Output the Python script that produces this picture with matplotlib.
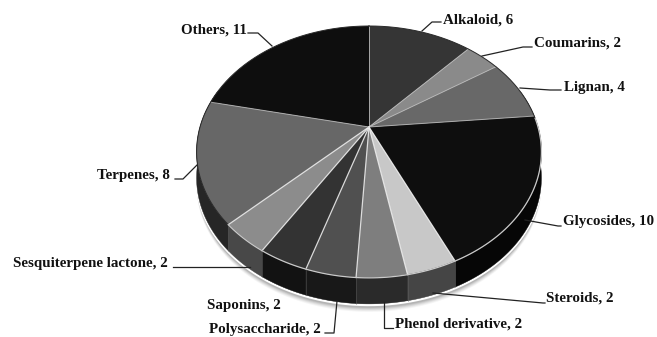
import numpy as np
import matplotlib
matplotlib.use("Agg")
import matplotlib.pyplot as plt
from matplotlib.patches import Polygon

names = ["Alkaloid", "Coumarins", "Lignan", "Glycosides", "Steroids", "Phenol derivative",
         "Polysaccharide", "Saponins", "Sesquiterpene lactone", "Terpenes", "Others"]
values = [6, 2, 4, 10, 2, 2, 2, 2, 2, 8, 11]
top_colors = ["#353535", "#8a8a8a", "#686868", "#0e0e0e", "#c8c8c8", "#7e7e7e",
              "#505050", "#333333", "#8c8c8c", "#676767", "#0e0e0e"]
side_colors = ["#222222", "#555555", "#333333", "#060606", "#454545", "#2a2a2a",
               "#181818", "#121212", "#484848", "#262626", "#060606"]

# label text anchor (left x, centre y) and leader line for each slice
label_pos = [(443, 20), (534, 43), (564, 87), (563, 221), (546, 298), (395, 324),
             (209, 329), (207, 305), (13, 263), (97, 175), (181, 30)]
leaders = [[(422, 31), (432, 22), (441, 22)],
           [(482, 56), (523, 47), (532, 47)],
           [(520, 88), (550, 90), (561, 90)],
           [(525, 220), (558, 226), (561, 226)],
           [(433, 293), (543, 303), (545, 303)],
           [(384, 302), (384, 328), (393, 328)],
           [(337, 301), (334, 333), (325, 333)],
           None,
           [(250, 267), (173, 267)],
           [(197, 165), (183, 179), (175, 179)],
           [(248, 33), (258, 33), (272, 46)]]

# perspective view of the pie disc
cx, cy = 369, 127
rx, ry, tilt = 169, 121, 0.198
depth = 26


def rim(t, r=1.0):
    u, v = r * np.sin(t), -r * np.cos(t)
    d = 1 - tilt * v
    return np.column_stack([cx + rx * u / d, cy + ry * v / d])


fig = plt.figure(figsize=(6.57, 3.37), dpi=100)
ax = fig.add_axes([0, 0, 1, 1])
ax.set_xlim(0, 657)
ax.set_ylim(337, 0)
ax.axis("off")

edges = np.cumsum([0] + values) / sum(values) * 2 * np.pi
drop = np.array([0, depth])

# soft shadow under the lower rim
low = np.linspace(np.pi * 0.45, np.pi * 1.55, 200)
for off, alpha in [(8, 0.06), (7, 0.08), (6, 0.10), (5, 0.13), (4, 0.16)]:
    ax.add_patch(Polygon(rim(low) + drop + [0, off], closed=True, fc="#555555", ec="none", alpha=alpha, zorder=1))
ax.plot(*(rim(low) + drop + [0, 1.2]).T, color="white", lw=1.6, zorder=1.5)

# side walls
for i in range(len(values)):
    a, b = edges[i], edges[i + 1]
    a, b = max(a, np.pi * 0.4), min(b, np.pi * 1.6)
    if b <= a:
        continue
    arc = rim(np.linspace(a, b, 60))
    wall = np.vstack([arc, (arc + drop)[::-1]])
    ax.add_patch(Polygon(wall, closed=True, fc=side_colors[i], ec=side_colors[i], lw=0.3, zorder=2))
    # lighter seam on the left end of each wall
    seam = rim(np.array([b]))
    ax.plot([seam[0, 0], seam[0, 0]], [seam[0, 1], seam[0, 1] + depth], color="#666666", lw=0.5, alpha=0.6, zorder=2.5)

# top face
for i in range(len(values)):
    arc = rim(np.linspace(edges[i], edges[i + 1], 120))
    face = np.vstack([[cx, cy], arc])
    ax.add_patch(Polygon(face, closed=True, fc=top_colors[i], ec="none", zorder=3))

# slice separators, brighter towards the front
for e in edges[:-1]:
    p = rim(np.array([e]))[0]
    front_edge = np.cos(e) < 0
    ax.plot([cx, p[0]], [cy, p[1]], color="#f0f0f0" if front_edge else "#bbbbbb",
            lw=0.9 if front_edge else 0.7, alpha=0.85, zorder=4)
full = rim(np.linspace(0, 2 * np.pi, 400))
ax.plot(*full.T, color="#2a2a2a", lw=0.7, zorder=4)
front = rim(np.linspace(edges[3] + 0.02, edges[9], 120))
ax.plot(*front.T, color="#e6e6e6", lw=0.9, alpha=0.85, zorder=4.5)

# labels
for name, value, pos, line in zip(names, values, label_pos, leaders):
    ax.text(pos[0], pos[1], f"{name}, {value}", family="Liberation Serif", weight="bold",
            fontsize=10.8, color="#111111", ha="left", va="center", zorder=6)
    if line is not None:
        xs, ys = zip(*line)
        ax.plot(xs, ys, color="#222222", lw=0.9, zorder=5)

fig.savefig("out.png", dpi=100)
